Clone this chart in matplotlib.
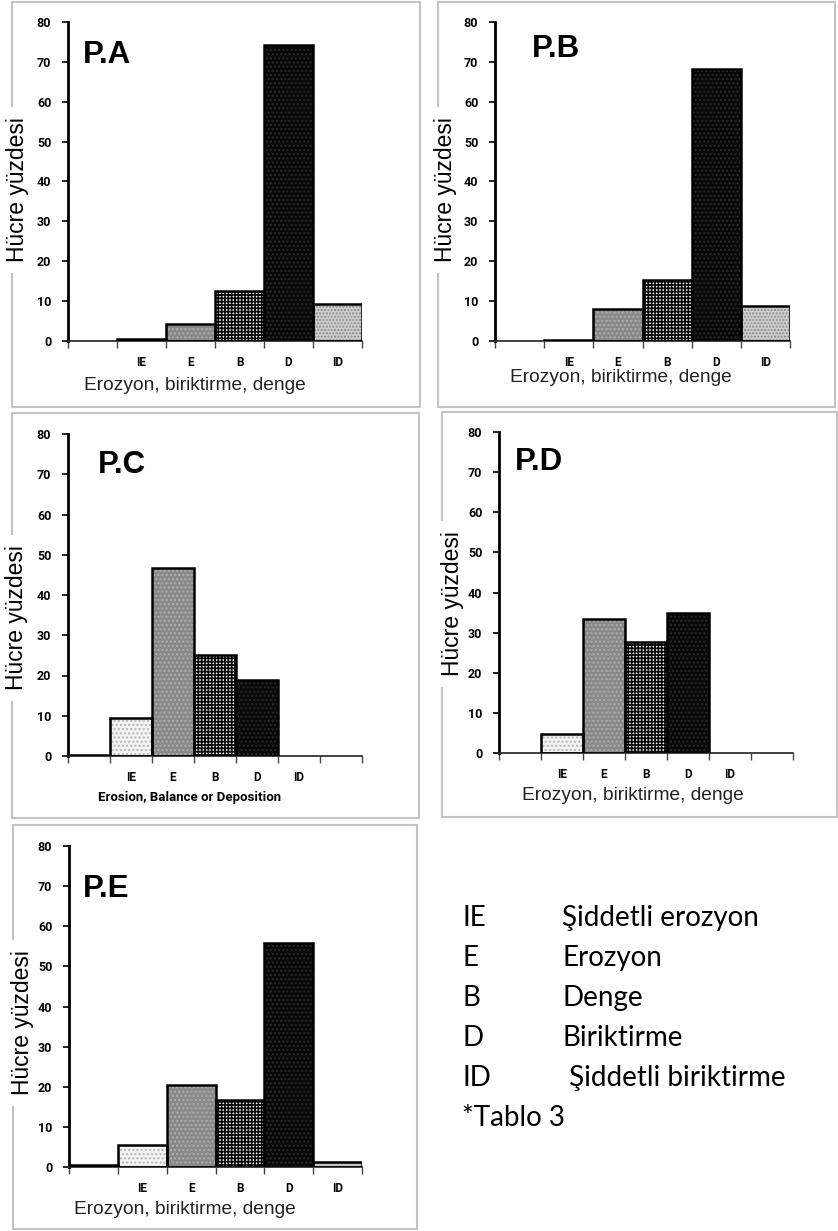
import matplotlib
matplotlib.use("Agg")
import matplotlib.pyplot as plt
from matplotlib.patches import Rectangle

# Cell percentages per erosion/deposition class for each profile.
# Slot 0 is the unlabelled leading slot on the category axis.
slots_6 = ["", "IE", "E", "B", "D", "ID"]
slots_7 = ["", "IE", "E", "B", "D", "ID", ""]

pa_values = [0, 0.4, 4.3, 12.5, 74.3, 9.2]
pb_values = [0, 0.25, 8.0, 15.3, 68.1, 8.9]
pc_values = [0.3, 9.5, 46.8, 25.2, 18.8, 0, 0]
pd_values = [0, 4.8, 33.3, 27.7, 35.0, 0, 0]
pe_values = [0.4, 5.4, 20.5, 16.6, 55.9, 1.2]

panel_names = ["P.A", "P.B", "P.C", "P.D", "P.E"]
y_ticks = [0, 10, 20, 30, 40, 50, 60, 70, 80]
y_title = "Hücre yüzdesi"
x_title_tr = "Erozyon, biriktirme, denge"
x_title_en = "Erosion, Balance or Deposition"

legend_codes = ["IE", "E", "B", "D", "ID"]
legend_names = ["Şiddetli erozyon", "Erozyon", "Denge", "Biriktirme", " Şiddetli biriktirme"]
legend_note = "*Tablo 3"

# fill, hatch colour, hatch pattern, hatch line width for each slot
styles = {
    "": ("white", "white", None, 1.0),
    "IE": ("#f3f3f3", "#b4b4b4", "....", 1.0),
    "E": ("#888888", "#b0b0b0", "....", 1.0),
    "B": ("white", "#050505", "+++++", 1.2),
    "D": ("#080808", "#2c2c2c", "....", 1.0),
    "ID": ("#cdcdcd", "#8a8a8a", ".....", 1.0),
}

tick_font = ["Liberation Sans Narrow", "Roboto", "DejaVu Sans"]

W, H = 838, 1231
fig = plt.figure(figsize=(W / 100, H / 100), dpi=100)


def fx(x):
    return x / W


def fy(y):
    return 1 - y / H


panels = [
    dict(vals=pa_values, cats=slots_6, ax=(68, 22, 362, 341), title=(83, 63),
         xl=(195, 385), yl=(18, 190), frame=(12, 2, 420, 407), en=False),
    dict(vals=pb_values, cats=slots_6, ax=(495, 22, 790, 341), title=(532, 57),
         xl=(621, 378), yl=(445, 190), frame=(438, 2, 835, 407), en=False),
    dict(vals=pc_values, cats=slots_7, ax=(68, 434, 362, 756), title=(98, 473),
         xl=(190, 797), yl=(17, 618), frame=(12, 413, 419, 818), en=True),
    dict(vals=pd_values, cats=slots_7, ax=(499, 432, 793, 753), title=(515, 470),
         xl=(633, 796), yl=(452, 604), frame=(442, 412, 837, 817), en=False),
    dict(vals=pe_values, cats=slots_6, ax=(69, 846, 362, 1167), title=(83, 897),
         xl=(185, 1210), yl=(22, 1023), frame=(13, 825, 417, 1229), en=False),
]

for name, p in zip(panel_names, panels):
    # light grey frame round each panel
    x0, y0, x1, y1 = p["frame"]
    fig.patches.append(Rectangle((fx(x0), fy(y1)), fx(x1 - x0), (y1 - y0) / H,
                                 transform=fig.transFigure, fill=False,
                                 edgecolor="#c4c4c4", linewidth=1.5, zorder=0))

    l, t, r, b = p["ax"]
    ax = fig.add_axes([fx(l), fy(b), fx(r - l), (b - t) / H])
    ax.set_zorder(2)
    ax.patch.set_alpha(0)

    n = len(p["cats"])
    for i, (cat, v) in enumerate(zip(p["cats"], p["vals"])):
        if v <= 0:
            continue
        face, hcol, hatch, hlw = styles[cat]
        with plt.rc_context({"hatch.linewidth": hlw}):
            ax.bar(i + 0.5, v, width=1.0, color=face, edgecolor=hcol,
                   linewidth=0, hatch=hatch, zorder=2)
        ax.bar(i + 0.5, v, width=1.0, fill=False, edgecolor="black",
               linewidth=1.8, zorder=3)

    ax.set_xlim(0, n)
    ax.set_ylim(0, 80)
    for s in ["top", "right"]:
        ax.spines[s].set_visible(False)
    ax.spines["left"].set_linewidth(2.0)
    ax.spines["bottom"].set_linewidth(1.3)
    ax.spines["bottom"].set_color("#333333")

    ax.set_yticks(y_ticks)
    ax.set_yticklabels([str(v) for v in y_ticks], family=tick_font,
                       fontweight="bold", fontsize=9)
    ax.tick_params(axis="y", direction="out", length=4, width=1.2, pad=8)

    ax.set_xticks(range(n + 1))
    ax.set_xticklabels([])
    ax.tick_params(axis="x", which="major", direction="out", length=5,
                   width=1.0, color="#444444")
    ax.set_xticks([i + 0.5 for i in range(n)], minor=True)
    ax.set_xticklabels(p["cats"], minor=True, family=tick_font,
                       fontweight="bold", fontsize=8.5)
    ax.tick_params(axis="x", which="minor", length=0, pad=11)

    # panel name
    fig.text(fx(p["title"][0]), fy(p["title"][1]), name, fontfamily="Liberation Sans",
             fontweight="bold", fontsize=22.5, ha="left", va="baseline", zorder=3)

    # category axis title
    if p["en"]:
        fig.text(fx(p["xl"][0]), fy(p["xl"][1]), x_title_en, family=tick_font,
                 fontweight="bold", fontsize=9.5, ha="center", va="center")
    else:
        fig.text(fx(p["xl"][0]), fy(p["xl"][1]), x_title_tr,
                 fontfamily="Liberation Sans", fontsize=13.8,
                 color="#222222", ha="center", va="center")

    # value axis title, boxed in white so it breaks the frame line
    fig.text(fx(p["yl"][0]), fy(p["yl"][1]), y_title, fontfamily="Liberation Sans",
             fontsize=16.5, rotation=90, ha="center", va="center", zorder=1,
             bbox=dict(boxstyle="square,pad=0.45", facecolor="white",
                       edgecolor="none"))

# class key
for k, (code, desc) in enumerate(zip(legend_codes, legend_names)):
    yb = 926 + 40 * k
    fig.text(fx(462), fy(yb), code, fontfamily="Lato", fontsize=20,
             ha="left", va="baseline")
    fig.text(fx(562), fy(yb), desc, fontfamily="Lato", fontsize=20,
             ha="left", va="baseline")
fig.text(fx(462), fy(1126), legend_note, fontfamily="Lato", fontsize=20,
         ha="left", va="baseline")

fig.savefig("out.png", dpi=100)
